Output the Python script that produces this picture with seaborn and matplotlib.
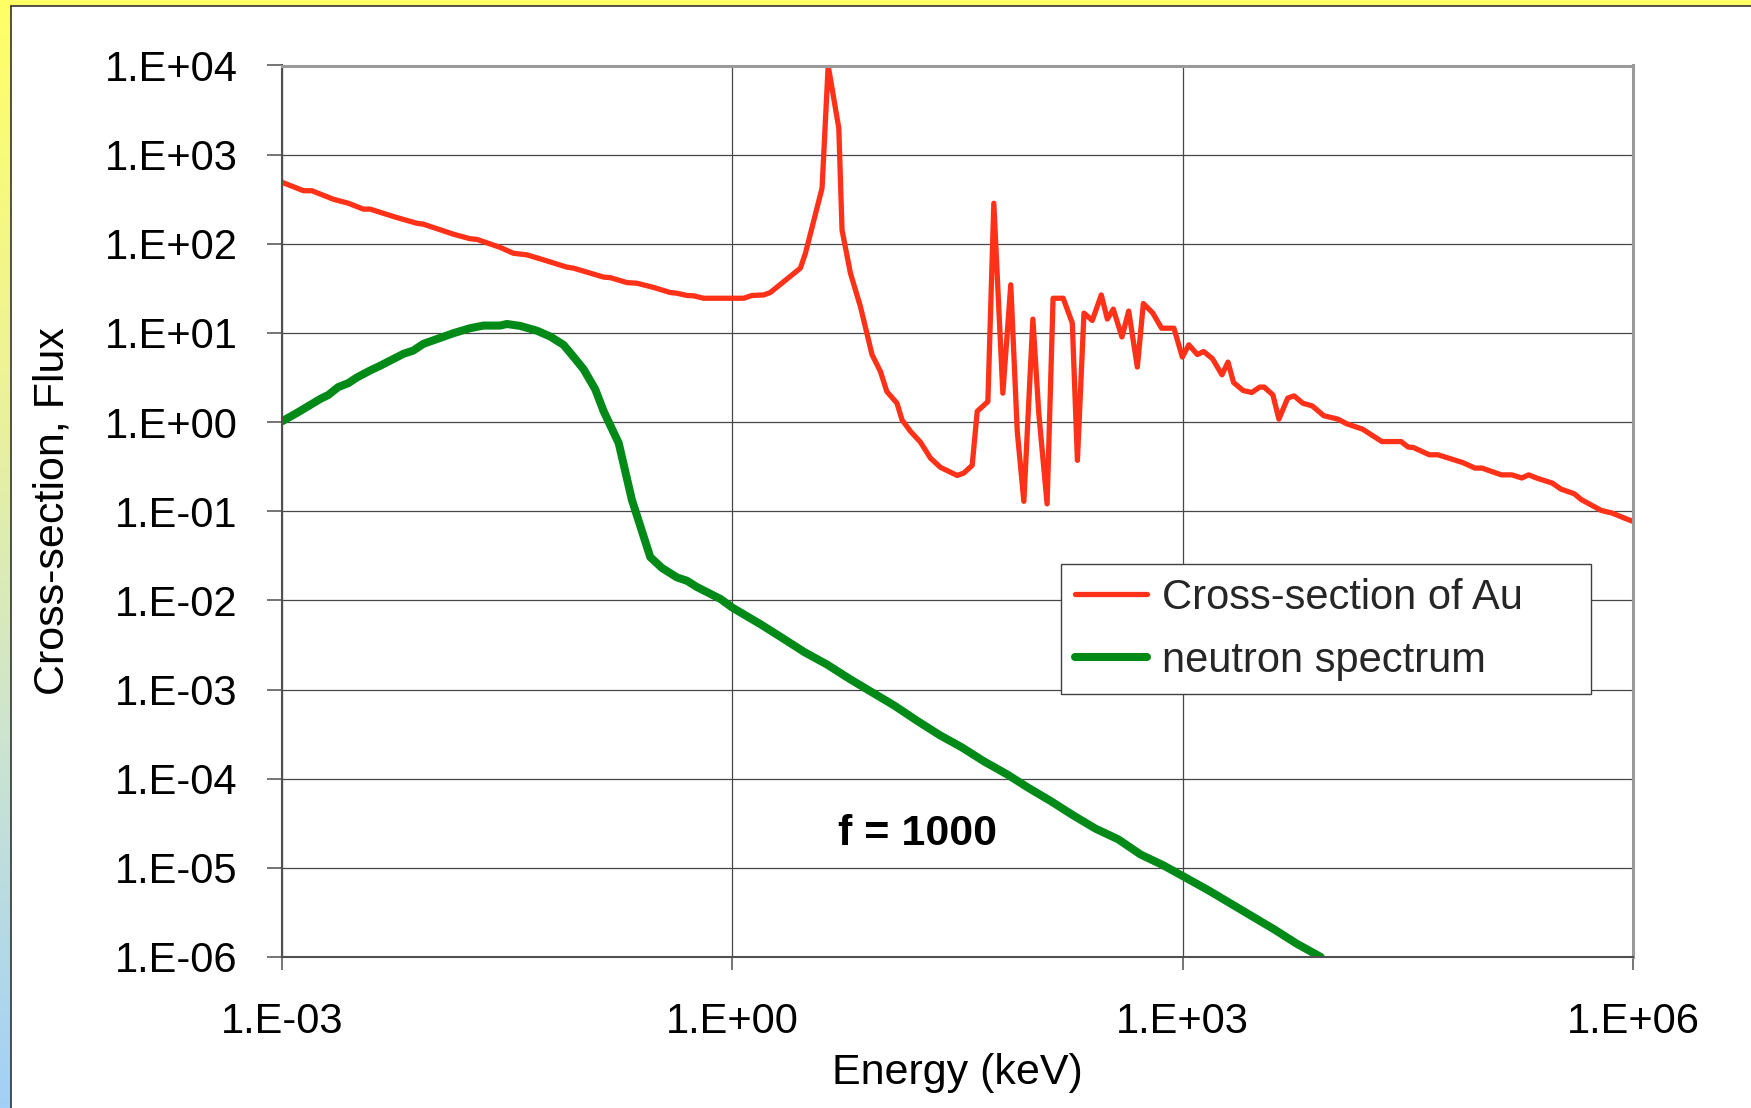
import numpy as np
import pandas as pd
import matplotlib
matplotlib.use("Agg")
import matplotlib.pyplot as plt
import seaborn as sns
from matplotlib.colors import LinearSegmentedColormap
from matplotlib.patches import Rectangle

# ---------------- data ----------------
au_energy = [1.00e-3, 1.39e-3, 1.58e-3, 2.20e-3, 2.77e-3, 3.48e-3, 3.86e-3, 5.82e-3, 7.91e-3, 8.75e-3,
             1.39e-2, 1.79e-2, 1.99e-2, 2.84e-2, 3.48e-2, 4.28e-2, 5.52e-2, 7.91e-2, 8.75e-2, 0.139,
             0.154, 0.199, 0.232, 0.299, 0.386, 0.428, 0.499, 0.552, 0.644, 1.19,
             1.35, 1.62, 1.79, 2.84, 3.07, 3.96, 4.35, 5.12, 5.38, 6.12,
             7.13, 8.53, 9.70, 10.7, 12.5, 13.5, 15.4, 17.9, 20.9, 24.4,
             31.5, 34.8, 39.6, 42.8, 50.4, 55.2, 63.4, 71.6, 79.1, 87.5,
             100.5, 110, 125, 137, 160, 184, 199, 220, 250, 287,
             315, 345, 394, 437, 499, 547, 631, 724, 875, 995,
             1099, 1253, 1380, 1581, 1828, 2004, 2183, 2529, 2891, 3258,
             3491, 3990, 4375, 5012, 5521, 6310, 7295, 8710, 10810, 12390,
             15780, 18530, 21230, 28510, 31770, 34430, 43950, 50230, 73280, 88510,
             98630, 132700, 156000, 181600, 201800, 227500, 289700, 331900, 406400, 452900,
             615200, 724400, 875000, 1000000]
au_xs = [490, 394, 394, 316, 285, 245, 245, 197, 170, 166,
         128, 114, 112, 91.2, 78.3, 75.2, 66.1, 54.7, 53.3, 42.3,
         41.7, 36.7, 36.1, 32.4, 28.4, 27.9, 26.3, 26.1, 24.5, 24.5,
         26.3, 26.7, 28.4, 53.3, 78.5, 420, 10000, 1980, 143, 46.8,
         19.8, 5.69, 3.69, 2.20, 1.63, 1.06, 0.785, 0.597, 0.394, 0.310,
         0.252, 0.268, 0.327, 1.32, 1.70, 285, 2.11, 34.7, 0.785, 0.129,
         14.3, 1.26, 0.121, 24.5, 24.5, 12.9, 0.372, 16.7, 13.8, 26.7,
         14.3, 18.5, 9.02, 17.6, 4.14, 21.4, 16.8, 11.3, 11.3, 5.36,
         7.36, 5.73, 6.19, 5.13, 3.39, 4.71, 2.78, 2.26, 2.15, 2.47,
         2.47, 2.02, 1.08, 1.86, 1.97, 1.63, 1.52, 1.18, 1.08, 0.957,
         0.834, 0.701, 0.605, 0.605, 0.525, 0.519, 0.430, 0.430, 0.352, 0.305,
         0.305, 0.256, 0.256, 0.236, 0.256, 0.236, 0.207, 0.177, 0.157, 0.135,
         0.102, 0.0955, 0.0839, 0.0769]

flux_energy = [1.00e-3, 1.25e-3, 1.79e-3, 2.04e-3, 2.37e-3, 2.77e-3, 3.15e-3, 3.86e-3, 4.50e-3, 6.44e-3,
               7.50e-3, 8.75e-3, 1.07e-2, 1.39e-2, 1.79e-2, 2.20e-2, 2.84e-2, 3.15e-2, 3.86e-2, 4.99e-2,
               6.12e-2, 7.50e-2, 8.53e-2, 0.102, 0.122, 0.139, 0.175, 0.214, 0.284, 0.340,
               0.428, 0.499, 0.582, 0.832, 1.0, 1.55, 2.19, 3.02, 4.27, 6.03,
               8.51, 12.0, 17.0, 24.0, 33.9, 47.9, 67.6, 93.3, 132, 186,
               263, 372, 525, 741, 1047, 1479, 2042, 2884, 4074, 5754,
               8318]
flux_values = [1.02, 1.26, 1.81, 2.02, 2.47, 2.74, 3.16, 3.79, 4.28, 5.83,
               6.35, 7.55, 8.51, 9.95, 11.3, 12.1, 12.1, 12.6, 12.0, 10.6,
               9.12, 7.36, 5.69, 3.93, 2.34, 1.32, 0.581, 0.135, 0.0306, 0.0231,
               0.0181, 0.0166, 0.0141, 0.0104, 0.0083, 0.00537, 0.00372, 0.00263, 0.00191, 0.00132,
               0.000933, 0.000661, 0.000447, 0.000309, 0.000224, 0.000155, 0.000112, 7.94e-5, 5.62e-5, 3.89e-5,
               2.75e-5, 2.09e-5, 1.41e-5, 1.07e-5, 7.76e-6, 5.62e-6, 4.07e-6, 2.88e-6, 2.04e-6, 1.41e-6,
               1.00e-6]

series_labels = ["Cross-section of Au", "neutron spectrum"]
x_ticks = [1e-3, 1e0, 1e3, 1e6]
x_tick_labels = ["1.E-03", "1.E+00", "1.E+03", "1.E+06"]
y_ticks = [1e-6, 1e-5, 1e-4, 1e-3, 1e-2, 1e-1, 1e0, 1e1, 1e2, 1e3, 1e4]
y_tick_labels = ["1.E-06", "1.E-05", "1.E-04", "1.E-03", "1.E-02", "1.E-01",
                 "1.E+00", "1.E+01", "1.E+02", "1.E+03", "1.E+04"]
x_label = "Energy (keV)"
y_label = "Cross-section, Flux"
annotation = "f = 1000"

# ---------------- style ----------------
sns.set_theme(style="white")
plt.rcParams['font.family'] = ['Liberation Sans', 'DejaVu Sans']

RED = "#FF3219"
GREEN = "#018A17"
W, H = 1751, 1108
fig = plt.figure(figsize=(W / 100, H / 100), dpi=100)
fig.patch.set_facecolor("white")

# slide-like frame (gradient strip on the left, yellow band on top)
bg = fig.add_axes([0, 0, 1, 1], zorder=-10)
bg.set_xlim(0, W)
bg.set_ylim(H, 0)
bg.axis("off")
grad = np.linspace(0, 1, 256).reshape(-1, 1)
cmap = LinearSegmentedColormap.from_list("frame", ["#FFFF66", "#EEF396", "#CDE4D0", "#A2D0F6"])
bg.imshow(grad, cmap=cmap, extent=[0, 10.5, H, 0], aspect="auto")
bg.add_patch(Rectangle((0, 0), W, 5.5, facecolor="#FFFF66", edgecolor="none"))
bg.plot([10.5, 10.5], [5.5, H], color="#333333", lw=1.2)
bg.plot([10.5, W], [5.5, 5.5], color="#333333", lw=1.2)

# main plot area
ax = fig.add_axes([282 / W, (H - 957) / H, (1633 - 282) / W, (957 - 65.5) / H])
ax.set_facecolor("white")

df_au = pd.DataFrame({"Energy": au_energy, "Value": au_xs})
df_fl = pd.DataFrame({"Energy": flux_energy, "Value": flux_values})
sns.lineplot(data=df_au, x="Energy", y="Value", ax=ax, color=RED, linewidth=3.8,
             label=series_labels[0], sort=False, estimator=None)
sns.lineplot(data=df_fl, x="Energy", y="Value", ax=ax, color=GREEN, linewidth=5.8,
             label=series_labels[1], sort=False, estimator=None)

ax.set_xscale("log")
ax.set_yscale("log")
ax.set_xlim(1e-3, 1e6)
ax.set_ylim(1e-6, 1e4)
ax.set_xticks(x_ticks)
ax.set_xticklabels(x_tick_labels)
ax.set_yticks(y_ticks)
ax.set_yticklabels(y_tick_labels)
ax.minorticks_off()

ax.set_axisbelow(True)
ax.grid(True, which="major", color="#474747", linewidth=0.9)

for s in ["left", "bottom"]:
    ax.spines[s].set_color("#505050")
    ax.spines[s].set_linewidth(1.5)
for s in ["top", "right"]:
    ax.spines[s].set_color("#9A9A9A")
    ax.spines[s].set_linewidth(2.2)

ax.tick_params(axis="y", which="major", left=True, direction="out", length=10.8,
               width=1.1, color="#505050", pad=21, labelsize=30, labelcolor="black")
ax.tick_params(axis="x", which="major", bottom=True, direction="out", length=9.4,
               width=1.1, color="#505050", pad=23, labelsize=30, labelcolor="black")

ax.set_xlabel(x_label, fontsize=31, color="black")
ax.xaxis.set_label_coords(0.5, -0.108)
ax.set_ylabel(y_label, fontsize=31, color="black")
ax.yaxis.set_label_coords(-0.1554, 0.5)

ax.text(17.1, 1.82e-5, annotation, fontsize=31, fontweight="bold", ha="center",
        va="baseline", color="black")

leg = ax.legend(loc="upper left", bbox_to_anchor=(0.5766, 0.4408 - 0.138, 0.392, 0.138),
                mode="expand", fontsize=30,
                frameon=True, fancybox=False, edgecolor="#404040", facecolor="white",
                framealpha=1, borderpad=0.33, handlelength=1.74, handletextpad=0.36,
                labelspacing=0.55, borderaxespad=0)
leg.get_frame().set_linewidth(1.0)

fig.savefig("out.png", dpi=100, facecolor="white")
